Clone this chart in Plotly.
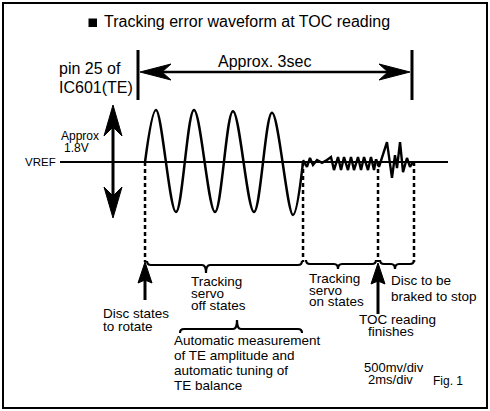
import plotly.graph_objects as go

# Tracking error waveform: time in s from start of the 3 sec window, level in V about VREF
off_t = [0.077, 0.197, 0.416, 0.613, 0.843, 1.040, 1.270, 1.467, 1.697, 1.807]
off_v = [0.0, 1.80, -1.73, 1.80, -1.73, 1.76, -1.73, 1.70, -1.83, 0.0]

on_t = [1.807, 1.850, 1.883, 1.916, 1.960, 2.015, 2.069, 2.113, 2.146, 2.190, 2.223,
        2.256, 2.299, 2.332, 2.365, 2.409, 2.442, 2.475, 2.518, 2.551, 2.584, 2.606]
on_v = [0.07, -0.17, 0.14, -0.10, 0.07, -0.03, 0.07, 0.17, -0.28, 0.17, -0.28,
        0.17, -0.28, 0.17, -0.28, 0.17, -0.28, 0.17, -0.28, 0.17, -0.28, 0.10]

brake_t = [2.606, 2.639, 2.726, 2.781, 2.814, 2.836, 2.869, 2.902, 2.945, 2.978, 3.011]
brake_v = [0.10, -0.17, 0.69, -0.55, 0.24, -0.21, 0.69, -0.35, 0.14, -0.17, 0.0]

# disc starts, servo on, TOC finished, disc stopped
event_t = [0.077, 1.807, 2.628, 3.022]
window_s = 3.0

W, H = 490, 411
X0, S = 138, 91.33        # px of t=0, px per second
VREF_PX, V = 162, 28.9    # px of VREF, px per volt
FONT = "Liberation Sans, Arial, Helvetica, sans-serif"

fig = go.Figure()

fig.add_trace(go.Scatter(x=off_t, y=off_v, mode="lines", line=dict(color="black", width=2.5, shape="spline", smoothing=1),
                         hoverinfo="skip", showlegend=False))
fig.add_trace(go.Scatter(x=on_t, y=on_v, mode="lines", line=dict(color="black", width=2.4),
                         hoverinfo="skip", showlegend=False))
fig.add_trace(go.Scatter(x=brake_t, y=brake_v, mode="lines", line=dict(color="black", width=2.4),
                         hoverinfo="skip", showlegend=False))
# dummy trace for the pixel layer
fig.add_trace(go.Scatter(x=[0], y=[0], xaxis="x2", yaxis="y2", mode="markers", marker_opacity=0,
                         hoverinfo="skip", showlegend=False))

shapes = []

def line(x0, y0, x1, y1, w=2.5, dash=None, xref="x2", yref="y2"):
    shapes.append(dict(type="line", xref=xref, yref=yref, x0=x0, y0=y0, x1=x1, y1=y1,
                       line=dict(color="black", width=w, dash=dash)))

def head(x, y, dx, dy, L, hw, notch):
    bx, by = x - dx * L, y - dy * L
    nx, ny = x - dx * notch, y - dy * notch
    p1 = (bx - dy * hw, by + dx * hw)
    p2 = (bx + dy * hw, by - dx * hw)
    path = f"M{x},{y} L{p1[0]},{p1[1]} L{nx},{ny} L{p2[0]},{p2[1]} Z"
    shapes.append(dict(type="path", xref="x2", yref="y2", path=path,
                       fillcolor="black", line=dict(color="black", width=1)))

def brace(x0, x1, xt, y, d, curl=4):
    s = 1 if d > 0 else -1
    path = (f"M{x0},{y - s * curl} Q{x0},{y} {x0 + 4},{y} L{xt - 4},{y} Q{xt},{y} {xt},{y + d} "
            f"Q{xt},{y} {xt + 4},{y} L{x1 - 4},{y} Q{x1},{y} {x1},{y - s * curl}")
    shapes.append(dict(type="path", xref="x2", yref="y2", path=path,
                       line=dict(color="black", width=2.2)))

# frame
shapes.append(dict(type="rect", xref="x2", yref="y2", x0=3, y0=3, x1=487, y1=408,
                   line=dict(color="black", width=2)))
# title bullet
shapes.append(dict(type="rect", xref="x2", yref="y2", x0=88.5, y0=18.5, x1=97, y1=27,
                   fillcolor="black", line=dict(width=0)))

# VREF line
line(60, VREF_PX, 448, VREF_PX, w=2)

# 3 sec window
line(0, 50, 0, 100, w=3, xref="x")
line(window_s, 50, window_s, 100, w=3, xref="x")
line(X0 + 8, 72, X0 + window_s * S - 8, 72, w=2.5)
head(X0 + 2, 72, -1, 0, 31, 8, 22)
head(X0 + window_s * S - 2, 72, 1, 0, 31, 8, 22)

# amplitude double arrow
line(113, 115, 113, 208, w=3)
head(113, 105, 0, -1, 31, 9, 22)
head(113, 218, 0, 1, 31, 9, 22)

# event markers
for t in event_t:
    line(t, VREF_PX, t, 262, w=2.5, dash="4px,3px", xref="x")

# braces
brace(147, 302, 206, 265, 8)
brace(306, 376, 338, 264, 5)
brace(380, 414, 395, 264, 5)
brace(180, 302, 237, 329, -9)

# pointer arrows
line(145, 275, 145, 300, w=3)
head(145, 262, 0, -1, 21, 7, 18)
line(378, 275, 378, 314, w=3)
head(378, 263, 0, -1, 21, 7, 18)

annotations = []

def txt(x, base, s, size, anchor="left"):
    annotations.append(dict(xref="x2", yref="y2", x=x, y=base - 0.35 * size, text=s, showarrow=False,
                            xanchor=anchor, yanchor="middle", borderpad=0,
                            font=dict(family=FONT, size=size, color="black")))

txt(103, 27, "Tracking error waveform at TOC reading", 16)
txt(217, 67, "Approx. 3sec", 16)
txt(58, 74, "pin 25 of", 16)
txt(58, 93, "IC601(TE)", 16)
txt(60, 140, "Approx", 12)
txt(63, 152, "1.8V", 12)
txt(57, 166.5, "VREF", 11.5, "right")

for i, s in enumerate(["Tracking", "servo", "off states"]):
    txt(190, 286.5 + 12 * i, s, 13.5)
for i, s in enumerate(["Tracking", "servo", "on states"]):
    txt(308, 283.5 + 11.5 * i, s, 13.5)
for i, s in enumerate(["Disc to be", "braked to stop"]):
    txt(390, 285 + 16.5 * i, s, 13.5)
for i, s in enumerate(["Disc states", "to rotate"]):
    txt(102, 318.5 + 13 * i, s, 13.5)
txt(358, 324, "TOC reading", 13.5)
txt(367, 336, "finishes", 13.5)
for i, s in enumerate(["Automatic measurement", "of TE amplitude and", "automatic tuning of", "TE balance"]):
    txt(173, 345 + 15.2 * i, s, 13.5)
txt(363, 372, "500mv/div", 13)
txt(367, 384.5, "2ms/div", 13)
txt(432, 385, "Fig. 1", 12)

fig.update_layout(
    width=W, height=H, autosize=False,
    margin=dict(l=0, r=0, t=0, b=0),
    paper_bgcolor="white", plot_bgcolor="white",
    xaxis=dict(range=[-X0 / S, (W - X0) / S], visible=False, fixedrange=True),
    yaxis=dict(range=[(VREF_PX - H) / V, VREF_PX / V], visible=False, fixedrange=True),
    xaxis2=dict(range=[0, W], overlaying="x", anchor="y2", visible=False, fixedrange=True),
    yaxis2=dict(range=[H, 0], overlaying="y", anchor="x2", visible=False, fixedrange=True),
    shapes=shapes,
    annotations=annotations,
    showlegend=False,
)

fig.write_html("out.html", config={"displayModeBar": False},
               post_script="document.body.style.margin='0';")
